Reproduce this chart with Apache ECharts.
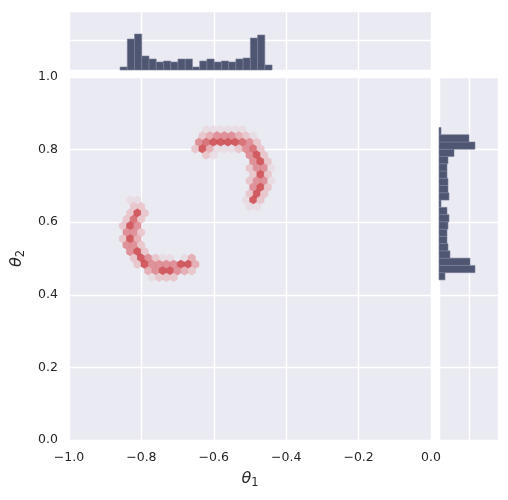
<!DOCTYPE html>
<html>
<head>
<meta charset="utf-8">
<script src="https://cdn.jsdelivr.net/npm/echarts@6/dist/echarts.min.js"></script>
<style>html,body{margin:0;padding:0;background:#fff}#c{width:508px;height:500px}</style>
</head>
<body>
<div id="c"></div>
<script>
// ---------- data ----------
const xTicks = [-1.0, -0.8, -0.6, -0.4, -0.2, 0.0];
const yTicks = [0.0, 0.2, 0.4, 0.6, 0.8, 1.0];

// marginal histogram of theta1 (bin edges and counts)
const topBinEdges = [-0.859,-0.839,-0.819,-0.799,-0.779,-0.759,-0.739,-0.719,-0.699,-0.679,-0.659,
                     -0.639,-0.619,-0.599,-0.579,-0.559,-0.539,-0.519,-0.499,-0.479,-0.459,-0.439];
const topCounts = [3, 31, 36, 14, 11, 8, 9, 8, 11, 11, 3, 9, 11, 8, 9, 8, 11, 12, 32, 35, 5];

// marginal histogram of theta2 (bin edges bottom->top and counts)
const rightBinEdges = [0.441,0.461,0.481,0.501,0.521,0.541,0.561,0.581,0.601,0.621,0.641,
                       0.661,0.681,0.701,0.721,0.741,0.761,0.781,0.801,0.821,0.841,0.861];
const rightCounts = [6, 36, 31, 11, 9, 8, 8, 9, 10, 8, 2, 10, 9, 9, 8, 8, 9, 15, 36, 30, 2];

// hexbin cells: [theta1 centre, theta2 centre, count level]
const hexCells = [
  // lower-left arc
  [-0.831,0.661,1],[-0.811,0.661,1],
  [-0.821,0.643,2],[-0.801,0.643,2],
  [-0.831,0.625,2],[-0.811,0.625,6],[-0.791,0.625,2],
  [-0.841,0.608,2],[-0.821,0.608,5],[-0.801,0.608,2],
  [-0.851,0.590,2],[-0.831,0.590,6],[-0.811,0.590,4],
  [-0.841,0.572,4],[-0.821,0.572,4],[-0.801,0.572,2],
  [-0.851,0.554,2],[-0.831,0.554,6],[-0.811,0.554,3],
  [-0.841,0.537,4],[-0.821,0.537,4],[-0.801,0.537,2],
  [-0.831,0.519,4],[-0.811,0.519,6],[-0.791,0.519,2],
  [-0.821,0.501,2],[-0.801,0.501,6],[-0.781,0.501,4],[-0.761,0.501,2],[-0.741,0.501,1],[-0.721,0.501,1],[-0.681,0.501,1],[-0.661,0.501,3],
  [-0.811,0.484,2],[-0.791,0.484,6],[-0.771,0.484,4],[-0.751,0.484,4],[-0.731,0.484,4],[-0.711,0.484,4],[-0.691,0.484,6],[-0.671,0.484,6],[-0.651,0.484,3],
  [-0.781,0.466,3],[-0.761,0.466,4],[-0.741,0.466,6],[-0.721,0.466,6],[-0.701,0.466,4],[-0.681,0.466,3],[-0.661,0.466,2],
  [-0.771,0.448,1],[-0.751,0.448,2],[-0.731,0.448,2],[-0.711,0.448,2],
  // upper-right arc
  [-0.621,0.855,1],[-0.601,0.855,1],[-0.581,0.855,1],[-0.561,0.855,1],[-0.541,0.855,1],[-0.521,0.855,1],
  [-0.631,0.838,2],[-0.611,0.838,3],[-0.591,0.838,4],[-0.571,0.838,4],[-0.551,0.838,4],[-0.531,0.838,3],[-0.511,0.838,2],[-0.491,0.838,1],
  [-0.641,0.820,4],[-0.621,0.820,5],[-0.601,0.820,6],[-0.581,0.820,6],[-0.561,0.820,6],[-0.541,0.820,6],[-0.521,0.820,5],[-0.501,0.820,4],[-0.481,0.820,2],
  [-0.651,0.802,2],[-0.631,0.802,6],[-0.611,0.802,3],[-0.591,0.802,1],[-0.571,0.802,1],[-0.551,0.802,1],[-0.531,0.802,2],[-0.511,0.802,4],[-0.491,0.802,5],[-0.471,0.802,2],
  [-0.621,0.785,2],[-0.601,0.785,1],[-0.501,0.785,4],[-0.481,0.785,6],[-0.461,0.785,2],
  [-0.491,0.767,4],[-0.471,0.767,6],[-0.451,0.767,2],
  [-0.501,0.749,2],[-0.481,0.749,4],[-0.461,0.749,4],[-0.441,0.749,1],
  [-0.491,0.731,2],[-0.471,0.731,6],[-0.451,0.731,2],
  [-0.501,0.714,2],[-0.481,0.714,4],[-0.461,0.714,4],[-0.441,0.714,1],
  [-0.491,0.696,4],[-0.471,0.696,6],[-0.451,0.696,2],
  [-0.501,0.678,2],[-0.481,0.678,6],[-0.461,0.678,2],
  [-0.511,0.661,1],[-0.491,0.661,6],[-0.471,0.661,2],
  [-0.501,0.643,1],[-0.481,0.643,1]
];

// ---------- chart ----------
const hexW = 0.02;         // hexagon width (theta1 units)
const hexH = 2 * 0.0177;   // lattice row period (theta2 units)
const hexShape = [[0.5,-0.5],[0.5,0.5],[0,1],[-0.5,0.5],[-0.5,-0.5],[0,-1]];

const FONT = 'DejaVu Sans';
const TXT = '#262626';
const BG = '#EAEAF2';
const fmt = v => (Math.round(v * 10) / 10).toFixed(1).replace('-', '\u2212');

const split = {show: true, lineStyle: {color: '#ffffff', width: 1.4}};
const noAxis = {axisLine: {show: false}, axisTick: {show: false}};

const topData = topCounts.map((c, i) => [topBinEdges[i], topBinEdges[i + 1], c]);
const rightData = rightCounts.map((c, i) => [rightBinEdges[i], rightBinEdges[i + 1], c]);

const barStyle = {fill: '#4f5672', stroke: '#7a8098', lineWidth: 0.6};

const nameRich = {
  t: {fontFamily: FONT, fontSize: 16, fontStyle: 'italic', color: TXT, lineHeight: 20},
  s: {fontFamily: FONT, fontSize: 11.5, color: TXT, lineHeight: 11, verticalAlign: 'bottom'}
};

const chart = echarts.init(document.getElementById('c'), null, {renderer: 'canvas'});
chart.setOption({
  animation: false,
  backgroundColor: '#ffffff',
  textStyle: {fontFamily: FONT},
  grid: [
    {left: 69, top: 77, width: 362, height: 363, show: true, backgroundColor: BG, borderWidth: 0},
    {left: 69, top: 11, width: 362, height: 59, show: true, backgroundColor: BG, borderWidth: 0},
    {left: 439, top: 77, width: 59, height: 363, show: true, backgroundColor: BG, borderWidth: 0}
  ],
  xAxis: [
    Object.assign({gridIndex: 0, type: 'value', min: xTicks[0], max: xTicks[xTicks.length - 1], interval: 0.2,
      splitLine: split,
      axisLabel: {formatter: fmt, color: TXT, fontSize: 12.5, fontFamily: FONT, margin: 11},
      name: '{t|θ}{s|1}', nameLocation: 'middle', nameGap: 29,
      nameTextStyle: {rich: nameRich}
    }, noAxis),
    Object.assign({gridIndex: 1, type: 'value', min: xTicks[0], max: xTicks[xTicks.length - 1], interval: 0.2,
      splitLine: split, axisLabel: {show: false}}, noAxis),
    Object.assign({gridIndex: 2, type: 'value', min: 0, max: 59, interval: 30,
      splitLine: split, axisLabel: {show: false}}, noAxis)
  ],
  yAxis: [
    Object.assign({gridIndex: 0, type: 'value', min: yTicks[0], max: yTicks[yTicks.length - 1], interval: 0.2,
      splitLine: split,
      axisLabel: {formatter: fmt, color: TXT, fontSize: 12.5, fontFamily: FONT, margin: 11},
      name: '{t|θ}{s|2}', nameLocation: 'middle', nameGap: 34, nameRotate: 90,
      nameTextStyle: {rich: nameRich}
    }, noAxis),
    Object.assign({gridIndex: 1, type: 'value', min: 0, max: 59, interval: 30,
      splitLine: split, axisLabel: {show: false}}, noAxis),
    Object.assign({gridIndex: 2, type: 'value', min: yTicks[0], max: yTicks[yTicks.length - 1], interval: 0.2,
      splitLine: split, axisLabel: {show: false}}, noAxis)
  ],
  visualMap: {
    show: false, type: 'continuous', seriesIndex: 0, dimension: 2, min: 1, max: 6,
    inRange: {color: ['#e9dae2', '#e8c2c7', '#e4a6ab', '#dd8389', '#d56267', '#cc4449']}
  },
  series: [
    {
      type: 'custom', xAxisIndex: 0, yAxisIndex: 0, data: hexCells,
      encode: {x: 0, y: 1},
      renderItem: function (params, api) {
        const cx = api.value(0), cy = api.value(1);
        const pts = hexShape.map(o => api.coord([cx + o[0] * hexW, cy + o[1] * hexH / 3]));
        const col = api.visual('color');
        return {type: 'polygon', shape: {points: pts},
          style: {fill: col, stroke: col, lineWidth: 0.5, opacity: 0.85}};
      }
    },
    {
      type: 'custom', xAxisIndex: 1, yAxisIndex: 1, data: topData,
      encode: {x: [0, 1], y: 2},
      renderItem: function (params, api) {
        const p0 = api.coord([api.value(0), 0]);
        const p1 = api.coord([api.value(1), api.value(2)]);
        return {type: 'rect', shape: {x: p0[0], y: p1[1], width: p1[0] - p0[0], height: p0[1] - p1[1]},
          style: barStyle};
      }
    },
    {
      type: 'custom', xAxisIndex: 2, yAxisIndex: 2, data: rightData,
      encode: {y: [0, 1], x: 2},
      renderItem: function (params, api) {
        const p0 = api.coord([0, api.value(0)]);
        const p1 = api.coord([api.value(2), api.value(1)]);
        return {type: 'rect', shape: {x: p0[0], y: p1[1], width: p1[0] - p0[0], height: p0[1] - p1[1]},
          style: barStyle};
      }
    }
  ]
});
</script>
</body>
</html>
